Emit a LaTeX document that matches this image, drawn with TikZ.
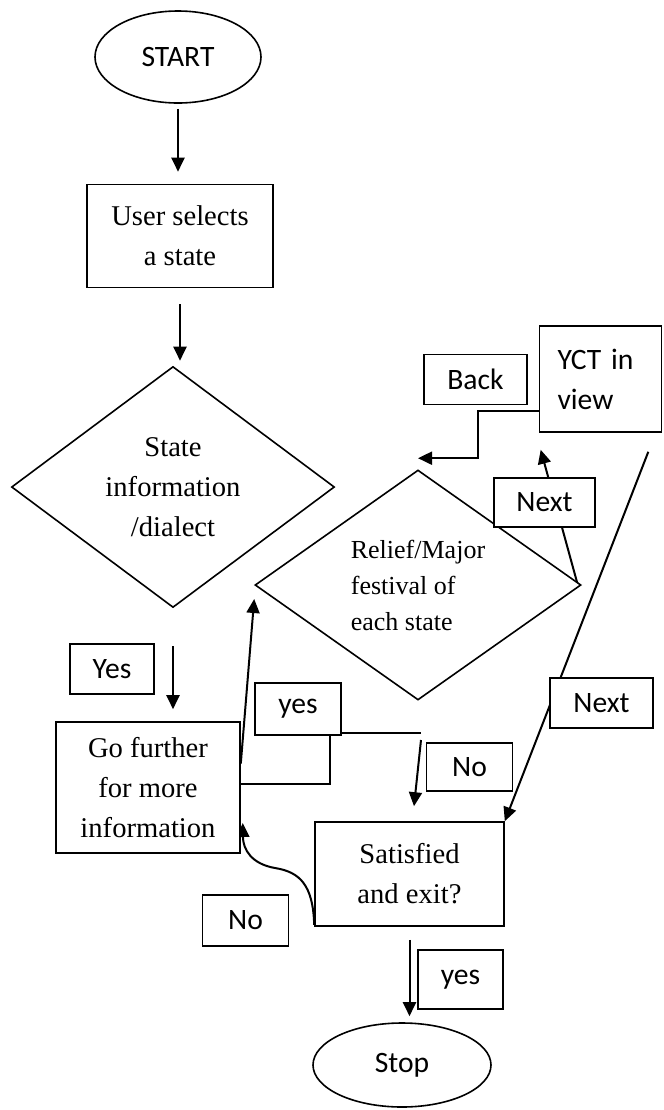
\documentclass[tikz,border=0pt]{standalone}
\usepackage{fontspec}
\setmainfont{Liberation Serif}
\newfontfamily\calibri{Carlito}
\usepackage{tikz}
\usetikzlibrary{shapes.geometric,arrows.meta,positioning}
\pgfdeclarelayer{bg}
\pgfsetlayers{bg,main}

\tikzset{
  box/.style={draw, fill=white, line width=0.8pt, inner sep=0pt, align=center,
    font=\fontsize{14.3}{20}\selectfont},
  tag/.style={draw, fill=white, line width=0.8pt, inner sep=0pt,
    minimum width=43pt, minimum height=25pt, font=\calibri\fontsize{14.8}{20}\selectfont},
  oval/.style={ellipse, draw, fill=white, line width=0.8pt, inner sep=0pt,
    font=\calibri\fontsize{14.8}{20}\selectfont},
  choice/.style={diamond, draw, fill=white, line width=0.8pt, inner sep=0pt, align=center,
    font=\fontsize{14.3}{20}\selectfont},
  arr/.style={line width=1pt, -{Triangle[length=7pt,width=6.5pt]}},
  link/.style={line width=1pt}
}

\begin{document}
\begin{tikzpicture}[x=0.5pt, y=-0.5pt]
\useasboundingbox (0,0) rectangle (664,1110);

% main column
\node[oval, minimum width=83pt, minimum height=46pt] (start) at (178,57) {START};
\node[box, minimum width=93pt, minimum height=51.5pt] (sel) at (180,236) {User selects\\a state};
\node[choice, shape aspect=1.34, minimum width=161.5pt, minimum height=120.5pt] (info) at (173,487)
  {State\\information\\/dialect};
\node[box, minimum width=92pt, minimum height=65.5pt] (go) at (148,787.5) {Go further\\for more\\information};

% right part
\node[choice, shape aspect=1.4, minimum width=163pt, minimum height=115pt, align=left,
  font=\fontsize{13}{18}\selectfont] (fest) at (418,585) {Relief/Major\\festival of\\each state};
\node[box, align=left, text width=43pt, inner xsep=9pt, minimum width=60.5pt, minimum height=53pt,
  font=\calibri\fontsize{14.8}{20}\selectfont] (yct) at (600.5,379) {YCT in\\view};
\node[box, minimum width=94.5pt, minimum height=52pt] (sat) at (409.5,874) {Satisfied\\and exit?};
\node[oval, minimum width=89pt, minimum height=42pt] (stop) at (402,1065) {Stop};

% labels
\node[tag, minimum width=51.5pt] (back) at (475.5,379.5) {Back};
\node[tag, minimum width=50.5pt, minimum height=24.5pt] (next1) at (544.5,502.5) {Next};
\node[tag, minimum width=51.5pt] (next2) at (601.5,703) {Next};
\node[tag, minimum width=42pt] (yes1) at (112,669) {Yes};
\node[tag, minimum height=26pt] (yes2) at (298,709) {yes};
\node[tag, minimum height=24pt] (no1) at (469.5,767) {No};
\node[tag, minimum height=25.5pt] (no2) at (245.5,920.5) {No};
\node[tag, minimum width=42.5pt, minimum height=29.5pt] (yes3) at (460.5,979.5) {yes};

\coordinate (yj) at (421,733);

\begin{pgfonlayer}{bg}
\draw[arr] ([yshift=-2.5pt]start.south) -- ([yshift=6pt]start.south |- sel.north);
\draw[arr] ([yshift=-8pt]sel.south) -- ([yshift=2.5pt]sel.south |- info.north);
\draw[arr] ([yshift=-19pt]info.south) -- ([yshift=6pt]info.south |- go.north);
\draw[arr] ([yshift=12pt]go.east) -- ([yshift=-7pt]fest.west);
\draw[link] ([yshift=2pt]go.east) -| ([xshift=16pt]yes2.south) |- (yj);
\draw[arr] ([yshift=-3.5pt]yj) -- ([shift={(2.25pt,7.5pt)}]sat.north);
\draw[arr] ([xshift=-2pt]fest.east) -- ([shift={(1pt,-8.5pt)}]yct.south west);
\draw[arr] ([shift={(1.5pt,-16pt)}]yct.west) -- ++(-32pt,0) |- ([yshift=5.5pt]fest.north);
\draw[arr] ([shift={(-7pt,-9.5pt)}]yct.south east) -- (sat.north east);
\draw[arr] ([yshift=1pt]sat.south west) .. controls (313,885) and (300,872) .. (275,868)
  .. controls (252,864) and (243,850) .. ([shift={(1pt,-17.75pt)}]go.east);
\draw[arr] ([yshift=-6.5pt]sat.south) -- ([yshift=3pt]sat.south |- stop.north);
\end{pgfonlayer}
\end{tikzpicture}
\end{document}
